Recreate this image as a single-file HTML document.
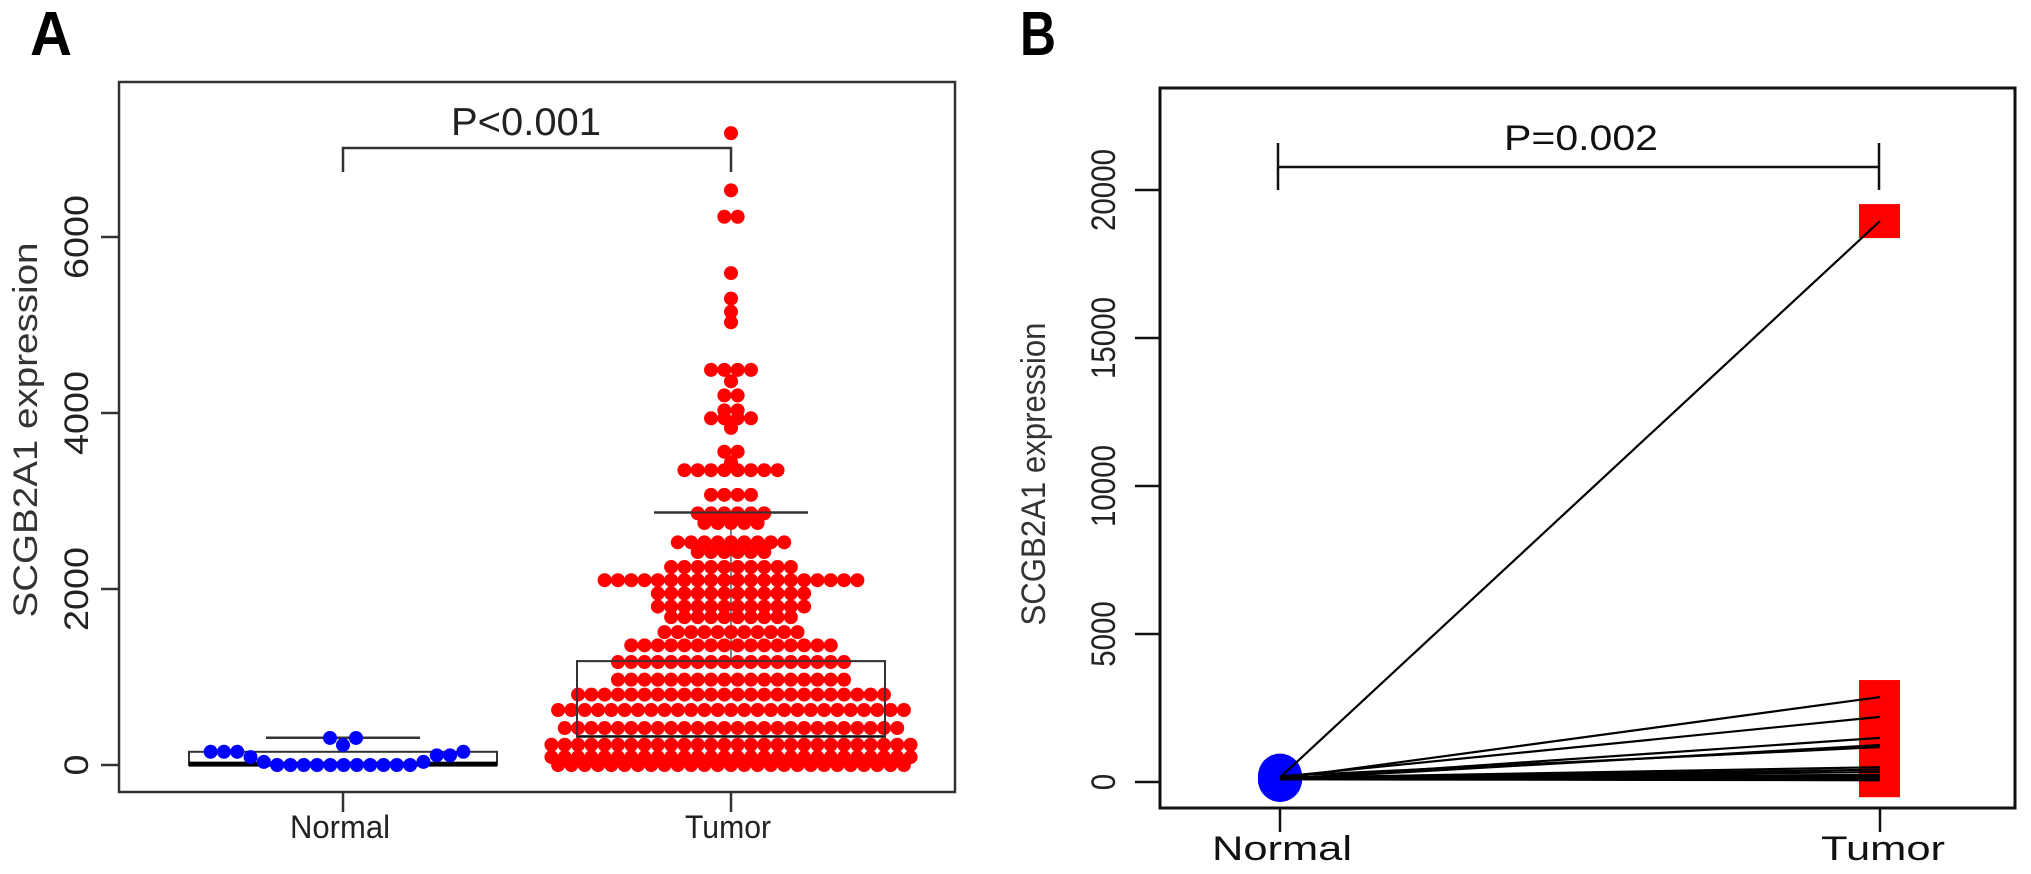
<!DOCTYPE html>
<html><head><meta charset="utf-8"><style>
html,body{margin:0;padding:0;background:#fff;}
svg{display:block;font-family:"Liberation Sans",Arial,sans-serif;}
</style></head><body>
<svg id="fig" width="2031" height="874" viewBox="0 0 2031 874" xmlns="http://www.w3.org/2000/svg">
<rect x="0" y="0" width="2031" height="874" fill="#fff"/>
<g id="panelA"></g>
<g id="panelB"></g>
</svg>
<script>
// ---------- Panel A data ----------
const aCategories = ["Normal", "Tumor"];
const aTicks = [0, 2000, 4000, 6000];
const normalValues = [150,150,150,90,35,0,0,0,0,0,0,0,0,0,0,0,35,110,110,150];
const normalUpperValues = [307,227,307];
const tumorRowValues = [7180,6530,6230,5590,5300,5150,5030,4490,4360,4200,4030,3940,3830,3560,3440,3350,3070,2860,2750,2530,2420,2250,2100,1950,1800,1680,1510,1360,1170,970,800,625,420,230,90,0];
const tumorRowCounts = [1,1,2,1,1,1,1,4,1,2,2,4,1,2,1,8,4,6,5,9,6,10,20,12,12,10,11,16,18,18,24,27,26,28,28,27];
const normalBox = [0, 10, 150, 310];   // q1, median, q3, whisker
const tumorBox = [320, 330, 1180, 2870];
const aPLabel = "P<0.001";

// ---------- Panel B data ----------
const bCategories = ["Normal", "Tumor"];
const bTicks = [0, 5000, 10000, 15000, 20000];
const bNormal = [150,120,180,100,90,200,140,110,160,130,170,100,150,120,90];
const bTumor  = [18950,2870,2200,1490,1250,1180,500,340,240,130,70,420,200,100,60];
const bPLabel = "P=0.002";

const NS = "http://www.w3.org/2000/svg";
function mk(parent, tag, attrs, text){
  const e = document.createElementNS(NS, tag);
  for (const k in attrs) e.setAttribute(k, attrs[k]);
  if (text !== undefined) e.textContent = text;
  parent.appendChild(e);
  return e;
}
const A = document.getElementById('panelA');
const B = document.getElementById('panelB');
const ink = "#222";

// ===== Panel A axes =====
const yA = v => 765 - v * 0.088;
const xA = i => 343 + i * 388;

let t = mk(A, 'text', {x:30, y:55, 'font-size':62, 'font-weight':'bold', textLength:42, lengthAdjust:'spacingAndGlyphs'}, 'A');



let r = mk(A, 'rect', {x:119, y:82, width:836, height:710, fill:'none', stroke:'#333', 'stroke-width':2.5});



aTicks.forEach(v => {
  const y = yA(v);
  const l = mk(A, 'line', {x1:101, x2:119, y1:y, y2:y, stroke:'#333', 'stroke-width':2.5});
  
  
  const s = String(v);
  const tx = mk(A, 'text', {x:88, y:y, 'font-size':34, fill:ink, 'text-anchor':'middle', transform:`rotate(-90 88 ${y})`, textLength:s.length*21, lengthAdjust:'spacingAndGlyphs'}, s);
  
  
});
t = mk(A, 'text', {x:37, y:430, 'font-size':34, fill:'#333', 'text-anchor':'middle', transform:'rotate(-90 37 430)', textLength:375, lengthAdjust:'spacingAndGlyphs'}, 'SCGB2A1 expression');



aCategories.forEach((c, i) => {
  const x = xA(i);
  const l = mk(A, 'line', {x1:x, x2:x, y1:792, y2:812, stroke:'#333', 'stroke-width':2.5});
  
  
  const tx = mk(A, 'text', {x:x-3, y:838, 'font-size':32, fill:ink, 'text-anchor':'middle', textLength: c.length===6?100:86, lengthAdjust:'spacingAndGlyphs'}, c);
  
  
});

function drawBox(cx, stats, name, medW){
  const g = mk(A, 'g', {});
  
  
  const [q1, med, q3, wh] = stats;
  mk(g, 'rect', {x:cx-154, y:yA(q3), width:308, height:yA(q1)-yA(q3), fill:'none', stroke:'#333', 'stroke-width':2});
  mk(g, 'line', {x1:cx-154, x2:cx+154, y1:yA(med), y2:yA(med), stroke:'#000', 'stroke-width':medW});
  mk(g, 'line', {x1:cx-77, x2:cx+77, y1:yA(wh), y2:yA(wh), stroke:'#333', 'stroke-width':2.5});
  mk(g, 'line', {x1:cx, x2:cx, y1:yA(q3), y2:yA(wh), stroke:'#333', 'stroke-width':1.2});
}
drawBox(xA(0), normalBox, 'box-normal', 5);

normalValues.forEach((v, j) => {
  const x = xA(0) + (j - (normalValues.length - 1) / 2) * 13.3 - 6;
  const c = mk(A, 'circle', {cx:x, cy:yA(v), r:7, fill:'#0000ff'});
  
  
});
normalUpperValues.forEach((v, j) => {
  const x = xA(0) + (j - 1) * 13;
  const c = mk(A, 'circle', {cx:x, cy:yA(v), r:7, fill:'#0000ff'});
  
  
});

// Tumor box drawn first (under dots) for median / whisker stem, outline re-drawn after
drawBox(xA(1), tumorBox, 'box-tumor', 1.5);
tumorRowValues.forEach((v, k) => {
  const n = tumorRowCounts[k];
  for (let j = 0; j < n; j++) {
    const x = xA(1) + (j - (n - 1) / 2) * 13.3;
    const c = mk(A, 'circle', {cx:x, cy:yA(v), r:7, fill:'#ff0000'});
    
    
  }
});
{
  const cx = xA(1);
  const o = mk(A, 'path', {d:`M${cx-154} ${yA(tumorBox[0])} V${yA(tumorBox[2])} H${cx+154} V${yA(tumorBox[0])} M${cx-77} ${yA(tumorBox[3])} H${cx+77}`, fill:'none', stroke:'#333', 'stroke-width':1.8});
  
  
}

let p = mk(A, 'path', {d:`M${xA(0)} 172 V148 H${xA(1)} V172`, fill:'none', stroke:'#333', 'stroke-width':2.5});


t = mk(A, 'text', {x:526, y:135, 'font-size':39, fill:ink, 'text-anchor':'middle', textLength:150, lengthAdjust:'spacingAndGlyphs'}, aPLabel);



// ===== Panel B =====
const yB = v => 782 - v * 0.0296;
const xB = i => 1280 + i * 600;

t = mk(B, 'text', {x:1020, y:55, 'font-size':62, 'font-weight':'bold', textLength:36, lengthAdjust:'spacingAndGlyphs'}, 'B');



p = mk(B, 'path', {d:'M1160 808 V88 H2015 V808 Z', fill:'none', stroke:'#111', 'stroke-width':3});



bTicks.forEach(v => {
  const y = yB(v);
  const l = mk(B, 'line', {x1:1135, x2:1160, y1:y, y2:y, stroke:'#111', 'stroke-width':2.5});
  
  
  const s = String(v);
  const tx = mk(B, 'text', {x:1115, y:y, 'font-size':34, fill:ink, 'text-anchor':'middle', transform:`rotate(-90 1115 ${y})`, textLength:s.length*16.4, lengthAdjust:'spacingAndGlyphs'}, s);
  
  
});
t = mk(B, 'text', {x:1045, y:474, 'font-size':34, fill:'#333', 'text-anchor':'middle', transform:'rotate(-90 1045 474)', textLength:303, lengthAdjust:'spacingAndGlyphs'}, 'SCGB2A1 expression');



bCategories.forEach((c, i) => {
  const x = xB(i);
  const l = mk(B, 'line', {x1:x, x2:x, y1:808, y2:832, stroke:'#111', 'stroke-width':2.5});
  
  
  const tx = mk(B, 'text', {x: i===0 ? 1282 : 1883, y:860, 'font-size':34, fill:'#111', 'text-anchor':'middle', textLength: i===0?140:124, lengthAdjust:'spacingAndGlyphs'}, c);
  
  
});

bNormal.forEach(v => {
  const e = mk(B, 'ellipse', {cx:xB(0), cy:yB(v), rx:22, ry:22.5, fill:'#0000ff'});
  
  
});
bTumor.forEach(v => {
  const e = mk(B, 'rect', {x:xB(1)-21, y:yB(v)-17, width:41, height:34, fill:'#ff0000'});
  
  
});
bNormal.forEach((v, i) => {
  const l = mk(B, 'line', {x1:xB(0), y1:yB(v), x2:xB(1), y2:yB(bTumor[i]), stroke:'#000', 'stroke-width':2.2});
  
  
});

p = mk(B, 'path', {d:`M${xB(0)-2} 143 V190 M${xB(0)-2} 167 H${xB(1)-1} M${xB(1)-1} 143 V190`, fill:'none', stroke:'#111', 'stroke-width':2.5});


t = mk(B, 'text', {x:1581, y:150, 'font-size':35, fill:'#111', 'text-anchor':'middle', textLength:154, lengthAdjust:'spacingAndGlyphs'}, bPLabel);


</script>
</body></html>
